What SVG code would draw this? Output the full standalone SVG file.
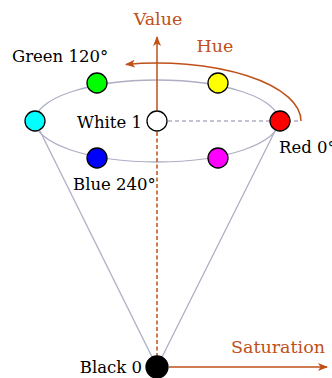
<svg xmlns="http://www.w3.org/2000/svg" width="332" height="378" viewBox="0 0 332 378">
<style>
.lbl{font-family:"DejaVu Serif","Liberation Serif",serif;font-size:16.5px;fill:#000}
.axl{font-family:"DejaVu Serif","Liberation Serif",serif;font-size:17.5px;fill:#c0501a}
.gray{fill:none;stroke:#aeaec4;stroke-width:1.3}
.org{fill:none;stroke:#c0501a;stroke-width:1.5}
.dot{stroke:#000;stroke-width:1.3}
</style>
<defs>
<marker id="ah" viewBox="0 0 10 8" refX="9" refY="4" markerWidth="10" markerHeight="8" markerUnits="userSpaceOnUse" orient="auto">
<path d="M0,0 L10,4 L0,8 L2.5,4 z" fill="#c0501a"/>
</marker>
</defs>
<g id="connectors">
<ellipse class="gray" cx="157" cy="121" rx="122" ry="41"/>
<line class="gray" x1="35" y1="121" x2="157" y2="367"/>
<line class="gray" x1="280" y1="121" x2="157" y2="367"/>
<line class="gray" x1="168" y1="121" x2="301" y2="121" stroke-dasharray="4,3"/>
<line class="org" x1="157" y1="132" x2="157" y2="356" stroke-dasharray="4,2.5"/>
<line class="org" x1="157" y1="110" x2="157" y2="37" marker-end="url(#ah)"/>
<path class="org" d="M301,121 A144,58 0 0 0 126,64.4" marker-end="url(#ah)"/>
<line class="org" x1="169" y1="367" x2="327" y2="367" marker-end="url(#ah)"/>
</g>
<g id="green"><circle class="dot" cx="97" cy="83" r="10" fill="#00ff00"/><text class="lbl" x="12" y="62">Green 120°</text></g>
<g id="yellow"><circle class="dot" cx="218" cy="83" r="10" fill="#ffff00"/></g>
<g id="cyan"><circle class="dot" cx="35" cy="121" r="10" fill="#00ffff"/></g>
<g id="white"><circle class="dot" cx="157" cy="121" r="10" fill="#ffffff"/><text class="lbl" x="142" y="128" text-anchor="end">White 1</text></g>
<g id="red"><circle class="dot" cx="280" cy="121" r="10" fill="#ff0000"/><text class="lbl" x="279" y="153">Red 0°</text></g>
<g id="blue"><circle class="dot" cx="97" cy="158" r="10" fill="#0000ff"/><text class="lbl" x="73" y="190">Blue 240°</text></g>
<g id="magenta"><circle class="dot" cx="218" cy="158" r="10" fill="#ff00ff"/></g>
<g id="black"><circle class="dot" cx="157" cy="367" r="11" fill="#000000"/><text class="lbl" x="142" y="373" text-anchor="end">Black 0</text></g>
<g id="axes">
<text class="axl" x="158" y="25" text-anchor="middle">Value</text>
<text class="axl" x="215" y="52" text-anchor="middle">Hue</text>
<text class="axl" x="325" y="353" text-anchor="end">Saturation</text>
</g>
</svg>
